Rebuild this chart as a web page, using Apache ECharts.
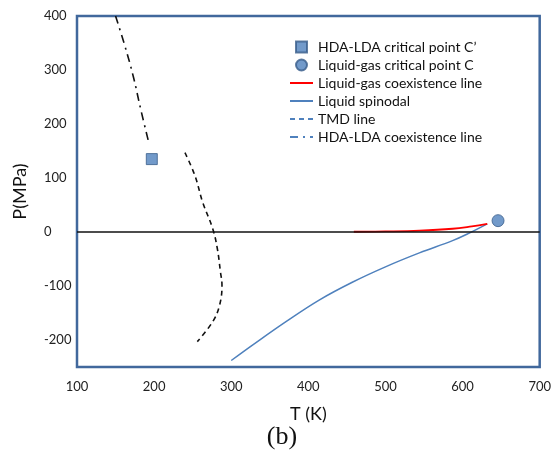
<!DOCTYPE html>
<html><head><meta charset="utf-8">
<script src="https://cdn.jsdelivr.net/npm/echarts@6/dist/echarts.min.js"></script>
<style>html,body{margin:0;padding:0;background:#fff}#c{width:554px;height:454px}</style>
</head><body><div id="c"></div>
<script>
// Data: [T (K), P (MPa)]
const hdaLdaCritical = [[197, 135]];
const liquidGasCritical = [[646, 21]];
const liquidGasCoexistence = [[459, 0.5], [500, 1], [544, 2.4], [587, 6], [612, 10.5], [632, 15]];
const liquidSpinodal = [[300, -238], [328, -209], [371, -166], [414, -126], [457, -93], [500, -64.5], [544, -38.7], [587, -16], [608, -2.5], [632, 15]];
const tmdLine = [[240, 147], [253, 104], [263, 55], [276, 6], [282, -31], [286, -74], [288, -98], [285, -135], [276, -166], [256, -203]];
const hdaLdaCoexistence = [[150, 400], [162, 345], [173, 288], [183, 225], [193, 166]];
const xTicks = [100, 200, 300, 400, 500, 600, 700];
const yTicks = [-200, -100, 0, 100, 200, 300, 400];
const seriesNames = ['HDA-LDA critical point C\u2019', 'Liquid-gas critical point C', 'Liquid-gas coexistence line', 'Liquid spinodal', 'TMD line', 'HDA-LDA coexistence line'];

const font = 'Lato, "Open Sans", sans-serif';
const blue = '#4f81bd';
const hiddenSym = {color: 'rgba(0,0,0,0)', borderWidth: 0, opacity: 0};
const chart = echarts.init(document.getElementById('c'), null, {renderer: 'canvas'});
chart.setOption({
  animation: false,
  backgroundColor: '#fff',
  grid: {left: 77, right: 13, top: 16, bottom: 87, show: true, borderColor: '#41689c', borderWidth: 2.5, backgroundColor: 'transparent'},
  xAxis: {
    type: 'value', min: xTicks[0], max: xTicks[xTicks.length - 1], interval: 100,
    axisLine: {show: false}, axisTick: {show: false}, splitLine: {show: false},
    axisLabel: {margin: 13, fontSize: 13, color: '#222', fontFamily: font},
    name: 'T (K)', nameLocation: 'middle', nameGap: 38,
    nameTextStyle: {fontSize: 18, color: '#111', fontFamily: font}
  },
  yAxis: {
    type: 'value', min: -250, max: 400, interval: 50,
    axisLine: {show: false}, axisTick: {show: false}, splitLine: {show: false},
    axisLabel: {margin: 33, align: 'left', fontSize: 13, color: '#222', fontFamily: font,
      formatter: v => (yTicks.indexOf(v) >= 0 ? String(v) : '')},
    name: 'P(MPa)', nameLocation: 'middle', nameGap: 48,
    nameTextStyle: {fontSize: 18, color: '#111', fontFamily: font}
  },
  legend: {
    orient: 'vertical', left: 284, top: 35,
    itemWidth: 23, itemHeight: 11, itemGap: 4,
    textStyle: {fontSize: 14, lineHeight: 14, color: '#111', fontFamily: font},
    data: [
      {name: seriesNames[0], icon: 'path://M0,0H10V10H0Z'},
      {name: seriesNames[1], icon: 'circle'},
      {name: seriesNames[2], itemStyle: hiddenSym},
      {name: seriesNames[3], itemStyle: hiddenSym},
      {name: seriesNames[4], itemStyle: hiddenSym, lineStyle: {color: blue, width: 2}},
      {name: seriesNames[5], itemStyle: hiddenSym, lineStyle: {color: blue, width: 2}}
    ]
  },
  graphic: [{type: 'text', x: 282, y: 437, style: {text: '(b)', align: 'center', verticalAlign: 'middle', font: '26px "Liberation Serif", "DejaVu Serif", serif', fill: '#111'}}],
  series: [
    {name: seriesNames[2], type: 'line', data: liquidGasCoexistence, symbol: 'none', smooth: 0.4,
      lineStyle: {color: '#ff0000', width: 1.8}, itemStyle: {color: '#ff0000'}, z: 4},
    {name: seriesNames[3], type: 'line', data: liquidSpinodal, symbol: 'none', smooth: 0.4,
      lineStyle: {color: blue, width: 1.5}, itemStyle: {color: blue}, z: 3,
      markLine: {silent: true, symbol: 'none', label: {show: false}, animation: false,
        lineStyle: {color: '#111', width: 1.6, type: 'solid'}, data: [{yAxis: 0}]}},
    {name: seriesNames[4], type: 'line', data: tmdLine, symbol: 'none', smooth: 0.4,
      lineStyle: {color: '#111', width: 1.6, type: [5, 4]}, itemStyle: {color: '#111'}, z: 3},
    {name: seriesNames[5], type: 'line', data: hdaLdaCoexistence, symbol: 'none', smooth: 0.4,
      lineStyle: {color: '#111', width: 1.6, type: [8, 5, 2, 5]}, itemStyle: {color: '#111'}, z: 3},
    {name: seriesNames[0], type: 'scatter', data: hdaLdaCritical, symbol: 'rect', symbolSize: 11,
      itemStyle: {color: blue, borderColor: '#385d8a', borderWidth: 1}, z: 5},
    {name: seriesNames[1], type: 'scatter', data: liquidGasCritical, symbol: 'circle', symbolSize: 12,
      itemStyle: {color: blue, borderColor: '#385d8a', borderWidth: 1}, z: 5}
  ]
});
</script></body></html>
